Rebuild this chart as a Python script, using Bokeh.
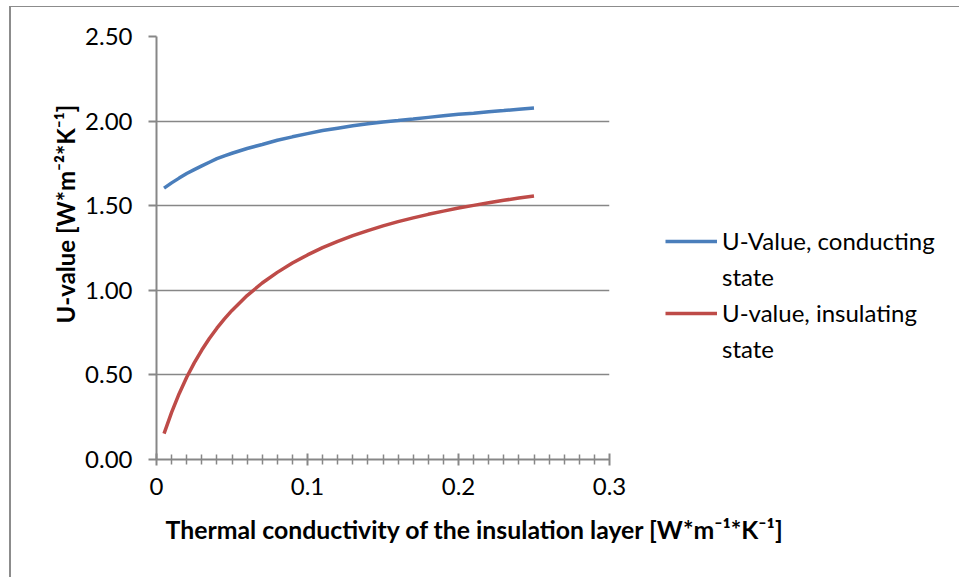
import math
from bokeh.plotting import figure
from bokeh.models import (Range1d, FixedTicker, CustomJSTickFormatter, Legend, LegendItem, Title)
from bokeh.embed import file_html
from bokeh.resources import INLINE

# ---- data ----
lam = [0.005, 0.01, 0.015, 0.02, 0.025, 0.03, 0.035, 0.04, 0.045, 0.05,
       0.06, 0.07, 0.08, 0.09, 0.10, 0.11, 0.12, 0.13, 0.14, 0.15,
       0.16, 0.17, 0.18, 0.19, 0.20, 0.21, 0.22, 0.23, 0.24, 0.25]
u_conducting = [1.604, 1.635, 1.663, 1.690, 1.713, 1.735, 1.757, 1.778, 1.795, 1.810,
                1.838, 1.862, 1.887, 1.907, 1.926, 1.944, 1.958, 1.972, 1.984, 1.995,
                2.003, 2.012, 2.022, 2.031, 2.040, 2.047, 2.055, 2.062, 2.070, 2.077]
u_insulating = [0.153, 0.278, 0.389, 0.486, 0.571, 0.647, 0.715, 0.776, 0.831, 0.881,
                0.969, 1.043, 1.106, 1.161, 1.209, 1.252, 1.289, 1.323, 1.353, 1.381,
                1.406, 1.428, 1.449, 1.468, 1.486, 1.502, 1.517, 1.532, 1.545, 1.557]
x_ticks = [0, 0.1, 0.2, 0.3]
x_minor = [round(i * 0.01, 2) for i in range(1, 30) if i % 10 != 0]
y_ticks = [0.0, 0.5, 1.0, 1.5, 2.0, 2.5]
series_names = ["U-Value, conducting", "U-value, insulating"]
series_second_line = ["state", "state"]
x_title = "Thermal conductivity of the insulation layer [W*m\u207b\u00b9*K\u207b\u00b9]"
y_title = "U-value [W*m\u207b\u00b2*K\u207b\u00b9]"

FONT = "Lato"
GREY = "#878787"
BLUE = "#4a7ebb"
RED = "#be4b48"

p = figure(frame_width=453, frame_height=423,
           min_border_left=145, min_border_right=350,
           min_border_top=29, min_border_bottom=118,
           x_range=Range1d(0, 0.3), y_range=Range1d(0, 2.5),
           output_backend="svg", toolbar_location=None)
p.styles = {"margin-left": "9px", "margin-top": "6px",
            "border-left": "2px solid #8c8c8c", "border-top": "1px solid #8c8c8c"}
p.outline_line_color = None
p.background_fill_color = "white"
p.border_fill_color = "white"

# axes
p.xaxis.ticker = FixedTicker(ticks=x_ticks, minor_ticks=x_minor)
p.xaxis.formatter = CustomJSTickFormatter(code="return tick == 0 ? '0' : tick.toFixed(1);")
p.yaxis.ticker = FixedTicker(ticks=y_ticks)
p.yaxis.formatter = CustomJSTickFormatter(code="return tick.toFixed(2);")
for ax in (p.xaxis, p.yaxis):
    ax.axis_line_color = GREY
    ax.axis_line_width = 2
    ax.major_tick_line_color = GREY
    ax.major_tick_line_width = 2
    ax.minor_tick_line_color = GREY
    ax.minor_tick_line_width = 1.5
    ax.major_label_text_font = FONT
    ax.major_label_text_font_size = "24px"
    ax.major_label_text_color = "black"
p.xaxis.major_tick_in = 6
p.xaxis.major_tick_out = 6
p.xaxis.minor_tick_in = 5
p.xaxis.minor_tick_out = 5
p.xaxis.major_label_standoff = 12
p.yaxis.major_tick_in = 0
p.yaxis.major_tick_out = 8
p.yaxis.minor_tick_in = 0
p.yaxis.minor_tick_out = 0
p.yaxis.major_label_standoff = 16

p.xgrid.grid_line_color = None
p.ygrid.ticker = FixedTicker(ticks=y_ticks)
p.ygrid.grid_line_color = GREY
p.ygrid.grid_line_width = 1.4

# series
r1 = p.line(lam, u_conducting, line_color=BLUE, line_width=3.5)
r2 = p.line(lam, u_insulating, line_color=RED, line_width=3.5)
# invisible, empty renderer used only for the wrapped second line of each legend label
r_blank = p.line(x=[], y=[], line_alpha=0)

legend = Legend(items=[LegendItem(label=series_names[0], renderers=[r1]),
                       LegendItem(label=series_second_line[0], renderers=[r_blank]),
                       LegendItem(label=series_names[1], renderers=[r2]),
                       LegendItem(label=series_second_line[1], renderers=[r_blank])],
                location=(56, 96), orientation="vertical",
                glyph_width=52, glyph_height=20, label_height=20, spacing=7,
                padding=0, margin=0, label_standoff=5,
                border_line_alpha=0, background_fill_alpha=0,
                label_text_font=FONT, label_text_font_size="24px",
                label_text_color="black")
p.add_layout(legend, "right")

p.add_layout(Title(text=x_title, text_font=FONT, text_font_size="24.8px",
                   text_font_style="bold", text_color="black",
                   align="left", offset=9, standoff=31), "below")
p.add_layout(Title(text=y_title, text_font=FONT, text_font_size="24px",
                   text_font_style="bold", text_color="black",
                   align="left", offset=136, standoff=6), "left")

open("out.html", "w").write(file_html(p, INLINE))
